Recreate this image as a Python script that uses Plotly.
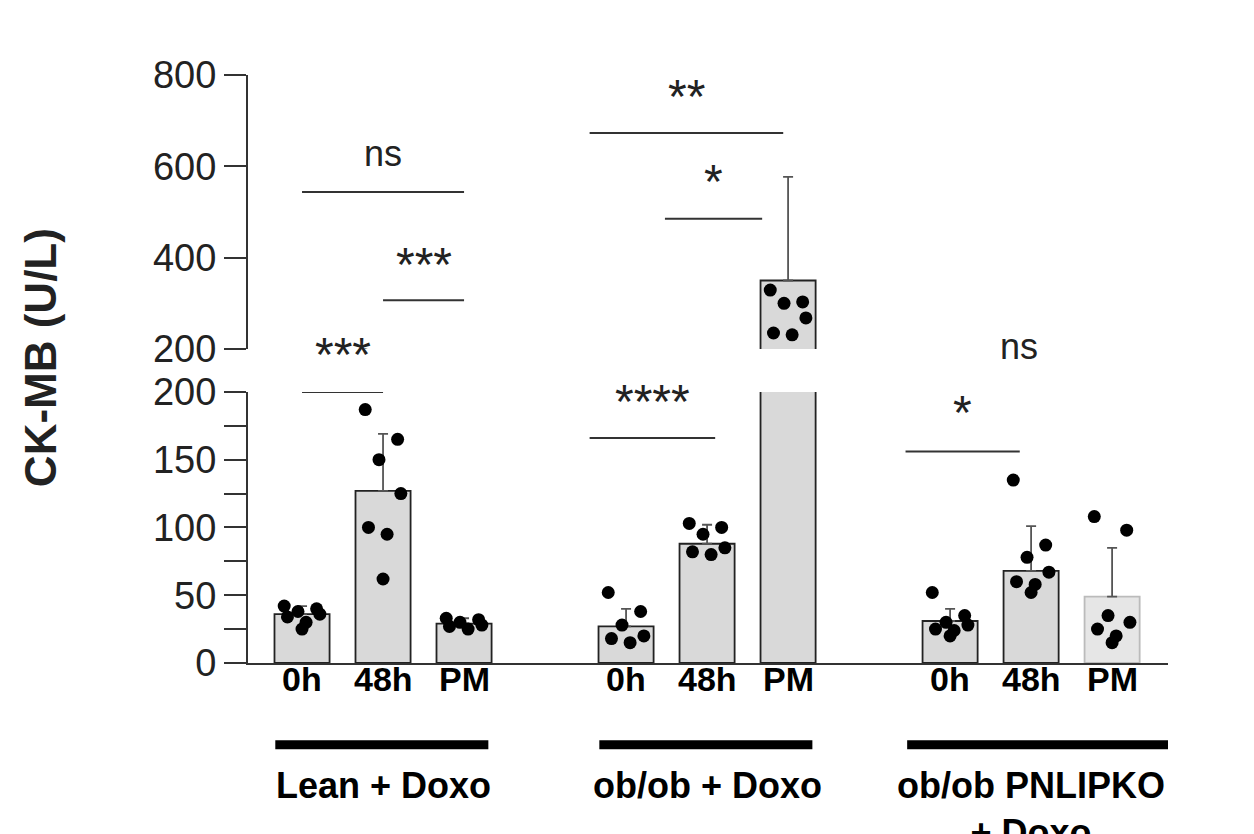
import plotly.graph_objects as go

# data
bar_labels = ["0h", "48h", "PM"] * 3
groups = ["Lean + Doxo", "ob/ob + Doxo", "ob/ob PNLIPKO<br>+ Doxo"]
xpos = [0, 1, 2, 4, 5, 6, 8, 9, 10]
means = [36, 127, 29, 27, 88, 350, 31, 68, 49]
err_up = [6, 42, 4, 13, 14, 227, 9, 33, 36]
points = [
    [42, 40, 38, 36, 34, 30, 25],
    [187, 165, 150, 125, 100, 95, 62],
    [33, 32, 30, 28, 27, 25],
    [52, 38, 28, 20, 18, 15],
    [103, 100, 95, 85, 82, 80],
    [329, 303, 300, 268, 235, 231],
    [52, 35, 30, 28, 25, 24, 20],
    [135, 87, 78, 67, 60, 58, 52],
    [108, 98, 35, 30, 25, 20, 15],
]
jitter = [-0.22, 0.18, -0.05, 0.22, -0.18, 0.05, 0.0]

# significance brackets: (x0, x1, axis, y, label, text axis, text y)
sig = [
    (0, 1, "y", 200, "***", "paper", 0.524),
    (1, 2, "y2", 307, "***", "y2", 384),
    (0, 2, "y2", 544, "ns", "y2", 629),
    (-0.45, 1.1, "y", 166, "****", "y", 193),
    (0.48, 1.68, "y2", 485, "*", "y2", 566),
    (-0.45, 1.94, "y2", 673, "**", "y2", 752),
    (-0.55, 0.86, "y", 156, "*", "y", 185),
    (-0.55, 2.26, "y", 203, "ns", "paper", 0.539),
]
sig_group = [0, 0, 0, 4, 4, 4, 8, 8, 8]

fig = go.Figure()
bar_edges = ["#222"] * 8 + ["#bbbbbb"]
bar_fill = ["#d9d9d9"] * 8 + ["#e6e6e6"]
for ax in ["y", "y2"]:
    fig.add_trace(go.Bar(
        x=xpos, y=means, yaxis=ax, width=0.68,
        marker=dict(color=bar_fill, line=dict(color=bar_edges, width=1.8)),
        error_y=dict(type="data", symmetric=False, array=err_up,
                     arrayminus=[0] * 9, color="#555", thickness=1.8, width=5),
        showlegend=False))
    px, py = [], []
    for x, pts in zip(xpos, points):
        for i, v in enumerate(pts):
            px.append(x + jitter[i % len(jitter)])
            py.append(v)
    fig.add_trace(go.Scatter(x=px, y=py, yaxis=ax, mode="markers",
                             marker=dict(color="black", size=13),
                             cliponaxis=True, showlegend=False))

shapes, annotations = [], []
for (x0, x1, ax, y, lab, tax, ty), g in zip(sig, sig_group):
    shapes.append(dict(type="line", xref="x", yref=ax, x0=g + x0, x1=g + x1,
                       y0=y, y1=y, line=dict(color="#333", width=2)))
    annotations.append(dict(x=g + (x0 + x1) / 2, y=ty, xref="x", yref=tax,
                            text=lab, showarrow=False,
                            font=dict(size=48 if "*" in lab else 36, color="#222")))

for x, lab in zip(xpos, bar_labels):
    annotations.append(dict(x=x, y=-0.063, xref="paper" if False else "x", yref="paper",
                            text="<b>" + lab + "</b>",
                            showarrow=False, font=dict(size=34, color="black")))
for gx, gname in zip([1, 5, 9.25], groups):
    shapes.append(dict(type="line", xref="x", yref="paper", x0=gx - 1.33 if gx != 9.25 else 7.47,
                       x1=gx + 1.3 if gx != 9.25 else 10.72, y0=-0.139, y1=-0.139,
                       line=dict(color="black", width=9)))
    annotations.append(dict(x=gx if gx != 9.25 else 9.0, y=-0.17, xref="x", yref="paper",
                            text="<b>" + gname + "</b>", showarrow=False, yanchor="top",
                            font=dict(size=36, color="black")))

fig.update_layout(
    width=1254, height=834,
    margin=dict(l=240, r=94, t=67, b=179),
    plot_bgcolor="white", paper_bgcolor="white",
    font=dict(family="Liberation Sans, Arial", color="#222"),
    shapes=shapes, annotations=annotations,
    xaxis=dict(range=[-0.667, 10.69], showticklabels=False, ticks="",
               showline=True, linecolor="#333", linewidth=2, showgrid=False,
               zeroline=False, fixedrange=True),
    yaxis=dict(domain=[0, 0.461], range=[0, 200], tickvals=[0, 50, 100, 150, 200],
               ticks="outside", ticklen=22, tickwidth=2, tickcolor="#333",
               minor=dict(ticks="outside", ticklen=22, dtick=25, tickwidth=2, tickcolor="#333"),
               showline=True, linecolor="#333", linewidth=2, showgrid=False,
               zeroline=False, tickfont=dict(size=38)),
    yaxis2=dict(domain=[0.534, 1], range=[200, 800], tickvals=[200, 400, 600, 800],
                ticks="outside", ticklen=22, tickwidth=2, tickcolor="#333",
                showline=True, linecolor="#333", linewidth=2, showgrid=False,
                zeroline=False, tickfont=dict(size=38)),
)
fig.add_annotation(x=-0.255, y=0.52, xref="paper", yref="paper", text="<b>CK-MB (U/L)</b>",
                   textangle=-90, showarrow=False, font=dict(size=44, color="#222"))

fig.write_html("out.html")
